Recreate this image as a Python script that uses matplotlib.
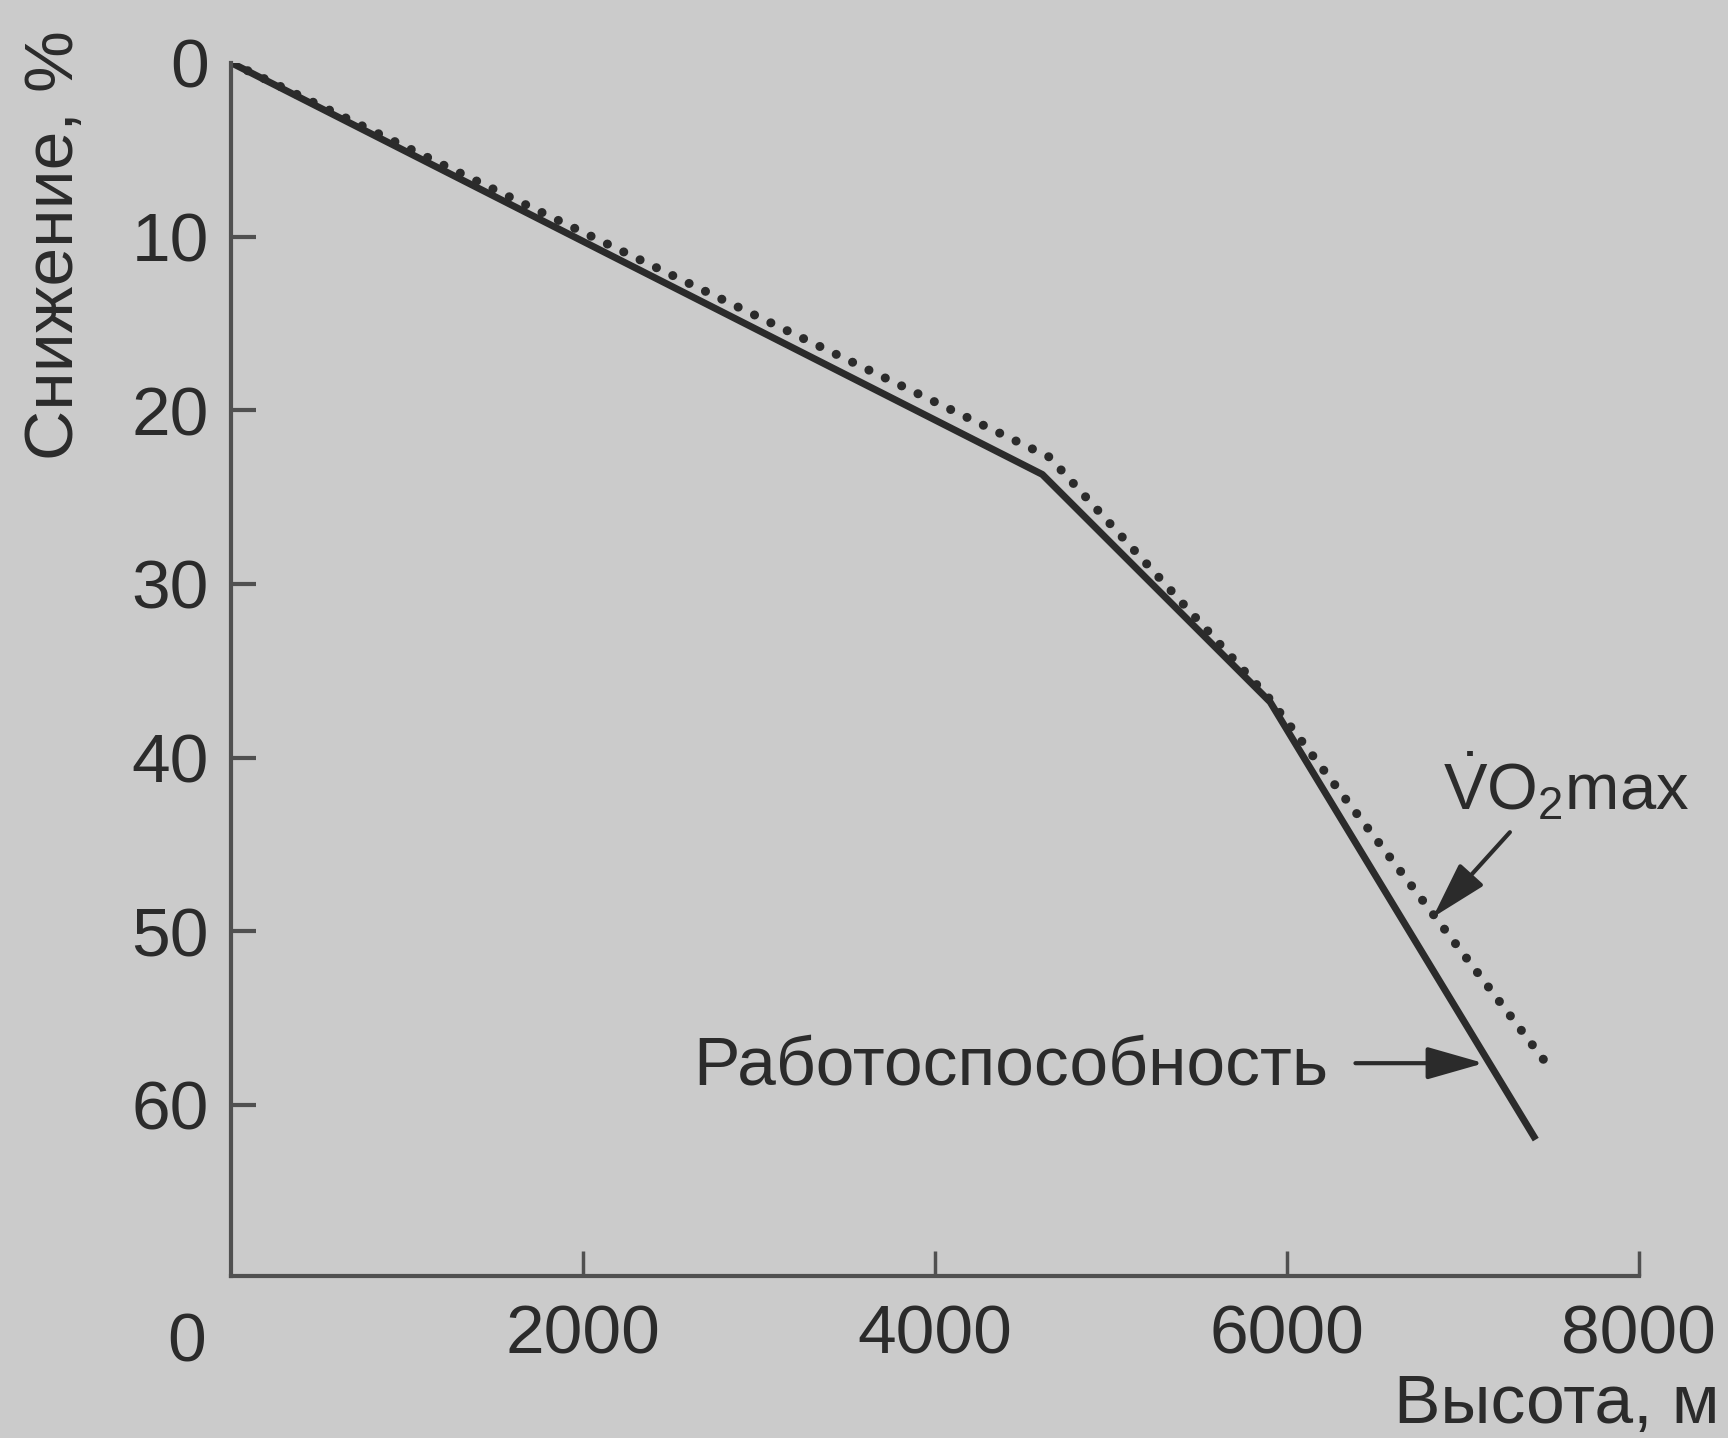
import matplotlib
matplotlib.use("Agg")
import matplotlib.pyplot as plt

plt.rcParams['font.family'] = ['Liberation Sans', 'DejaVu Sans']
plt.rcParams['mathtext.fontset'] = 'custom'
plt.rcParams['mathtext.rm'] = 'Liberation Sans'
plt.rcParams['mathtext.it'] = 'Liberation Sans'

# данные
work_x = [0, 4610, 5905, 7415]          # работоспособность
work_y = [0, 23.7, 36.8, 62.0]
vo2_x = [0, 4650, 5900, 7520]           # VO2max
vo2_y = [0, 22.7, 36.6, 58.2]
xticks = [2000, 4000, 6000, 8000]
yticks = [0, 10, 20, 30, 40, 50, 60]

bg = '#cbcbcb'
ink = '#2b2b2b'
axc = '#505050'
fs = 50

fig = plt.figure(figsize=(17.28, 14.38), dpi=100, facecolor=bg)
ax = fig.add_axes([0.1339, 0.1127, 0.8144, 0.8436], facecolor=bg)

ax.plot(work_x, work_y, color=ink, lw=5, solid_capstyle='butt')
ax.plot(vo2_x, vo2_y, color=ink, lw=6.5, linestyle=(0, (0.01, 2.0)),
        dash_capstyle='round')

ax.set_xlim(0, 8000)
ax.set_ylim(69.85, 0)
for s in ['top', 'right']:
    ax.spines[s].set_visible(False)
for s in ['left', 'bottom']:
    ax.spines[s].set_color(axc)
    ax.spines[s].set_linewidth(3)

ax.set_xticks(xticks)
ax.set_yticks(yticks)
ax.tick_params(axis='x', direction='in', length=18, width=2.5, color=axc,
               labelsize=fs, labelcolor=ink, pad=20)
ax.tick_params(axis='y', direction='in', length=18, width=3, color=axc,
               labelsize=fs, labelcolor=ink, pad=16)
ax.yaxis.get_major_ticks()[0].tick1line.set_visible(False)

# "0" в начале координат
fig.text(187 / 1728, 1 - 1344 / 1438, '0', fontsize=fs, color=ink,
         ha='center', va='center')

fig.text(55 / 1728, 1 - 245 / 1438, 'Снижение, %', fontsize=fs, color=ink,
         rotation=90, ha='center', va='center')
fig.text(1719 / 1728, 1 - 1405 / 1438, 'Высота, м', fontsize=fs, color=ink,
         ha='right', va='center')

# подписи со стрелками
arrow = dict(arrowstyle='-|>,head_length=0.7,head_width=0.2', color=ink,
             lw=3, mutation_scale=50, shrinkA=0, shrinkB=0)
ax.text(6890, 41.7, r'$\dot{\mathrm{V}}\mathrm{O}_2\mathrm{max}$', fontsize=47,
        color=ink, ha='left', va='center')
ax.annotate('', xy=(6830, 49.2), xytext=(7268, 44.3), arrowprops=arrow)
ax.text(6234, 57.8, 'Работоспособность', fontsize=fs, color=ink,
        ha='right', va='center')
ax.annotate('', xy=(7120, 57.6), xytext=(6390, 57.6), arrowprops=arrow)

fig.savefig('out.png', dpi=100, facecolor=bg)
